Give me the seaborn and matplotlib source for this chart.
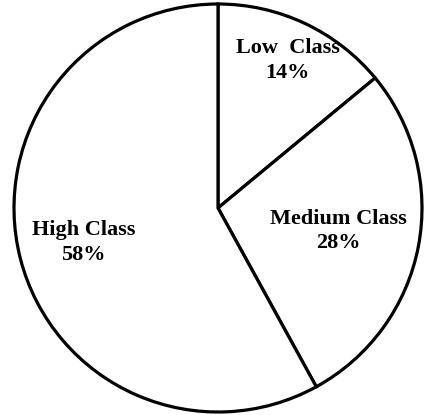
"""
Pie chart of class distribution (Low / Medium / High), white wedges with black outlines.
"""

import numpy as np
import matplotlib
matplotlib.use("Agg")
import matplotlib.pyplot as plt
import seaborn as sns

# Data
categories = ["Low  Class", "Medium Class", "High Class"]
shares = [14, 28, 58]

sns.set_theme(style="white")
plt.rcParams["font.family"] = ["Liberation Serif", "DejaVu Serif"]

W, H = 427, 415
CX, CY, R = 218, 207, 204  # pie centre / radius in pixels (y from bottom)

fig = plt.figure(figsize=(W / 100, H / 100), dpi=100)
ax = fig.add_axes([0, 0, 1, 1])

wedges, _ = ax.pie(
    shares,
    startangle=90,
    counterclock=False,
    colors=["white"] * len(shares),
    wedgeprops=dict(edgecolor="black", linewidth=2.3),
)

# labels sit along each wedge's mid-angle, at hand-tuned fractions of the radius
label_dist = [0.80, 0.60, 0.68]
for w, name, val, d in zip(wedges, categories, shares, label_dist):
    mid = np.deg2rad((w.theta1 + w.theta2) / 2)
    ax.text(d * np.cos(mid), d * np.sin(mid), f"{name}\n{val}%",
            ha="center", va="center", fontsize=16, fontweight="bold",
            linespacing=1.3, color="black")

ax.set_xlim(-CX / R, (W - CX) / R)
ax.set_ylim(-CY / R, (H - CY) / R)
ax.set_aspect("equal")
ax.axis("off")

fig.savefig("out.png", dpi=100, facecolor="white")
plt.close()
